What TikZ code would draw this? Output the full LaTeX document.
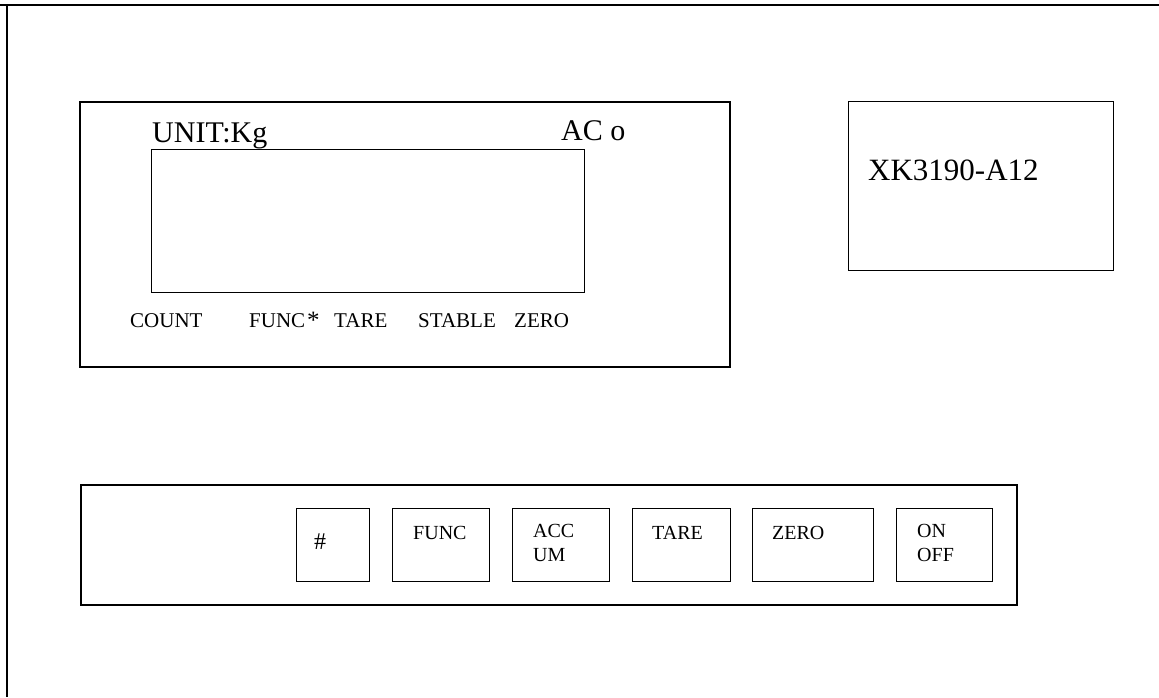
\documentclass[tikz,border=0pt]{standalone}
\usepackage{fontspec}
\setmainfont{Liberation Serif}
\begin{document}
\begin{tikzpicture}[x=1pt,y=-1pt,
  panel/.style={draw=black,line width=1.5pt,anchor=north west,inner sep=0pt},
  key/.style={draw=black,line width=1.4pt,anchor=north west,inner sep=0pt},
  lbl/.style={anchor=base west,inner sep=0pt,font=\fontsize{21}{23}\selectfont},
  big/.style={anchor=base west,inner sep=0pt,font=\fontsize{30}{32}\selectfont},
  ktxt/.style={anchor=base west,inner sep=0pt,font=\fontsize{20}{24}\selectfont,align=left}]
\useasboundingbox (0,0) rectangle (1159,697);
% outer frame (only top and left edges visible)
\coordinate (tl) at (0,5);
\coordinate (tr) at (1159,5);
\coordinate (lt) at (7,5);
\coordinate (lb) at (7,697);
\draw[line width=1.4pt] (tl) -- (tr);
\draw[line width=1.4pt] (lt) -- (lb);
% display panel
\node[panel,minimum width=650pt,minimum height=265pt] (disp) at (79,101) {};
\node[panel,line width=1.4pt,minimum width=433pt,minimum height=143pt] (lcd) at (151,149) {};
\node[big] (unit) at (152,142) {UNIT:Kg};
\node[big] (ac) at (561,140) {AC o};
\node[lbl] (count) at (130,327) {COUNT};
\node[lbl] (func) at (249,327) {FUNC};
\node[lbl,font=\fontsize{25}{26}\selectfont] (star) at (307,328) {*};
\node[lbl] (tare) at (334,327) {TARE};
\node[lbl] (stable) at (418,327) {STABLE};
\node[lbl] (zero) at (514,327) {ZERO};
% model box
\node[panel,line width=1.4pt,minimum width=265pt,minimum height=169pt] (model) at (848,101) {};
\node[big,font=\fontsize{31}{33}\selectfont] (mtxt) at (868,180) {XK3190-A12};
% keypad
\node[panel,minimum width=936pt,minimum height=120pt] (pad) at (80,484) {};
\node[key,minimum width=73pt,minimum height=73pt] (k1) at (296,508) {};
\node[key,minimum width=97pt,minimum height=73pt] (k2) at (392,508) {};
\node[key,minimum width=97pt,minimum height=73pt] (k3) at (512,508) {};
\node[key,minimum width=98pt,minimum height=73pt] (k4) at (632,508) {};
\node[key,minimum width=121pt,minimum height=73pt] (k5) at (752,508) {};
\node[key,minimum width=96pt,minimum height=73pt] (k6) at (896,508) {};
\node[ktxt,font=\fontsize{24}{24}\selectfont] (t1) at (314,549) {\#};
\node[ktxt] (t2) at (413,539) {FUNC};
\node[ktxt,anchor=north west] (t3) at (533,524) {ACC\\UM};
\node[ktxt] (t4) at (652,539) {TARE};
\node[ktxt] (t5) at (772,539) {ZERO};
\node[ktxt,anchor=north west] (t6) at (917,524) {ON\\OFF};
\end{tikzpicture}
\end{document}
